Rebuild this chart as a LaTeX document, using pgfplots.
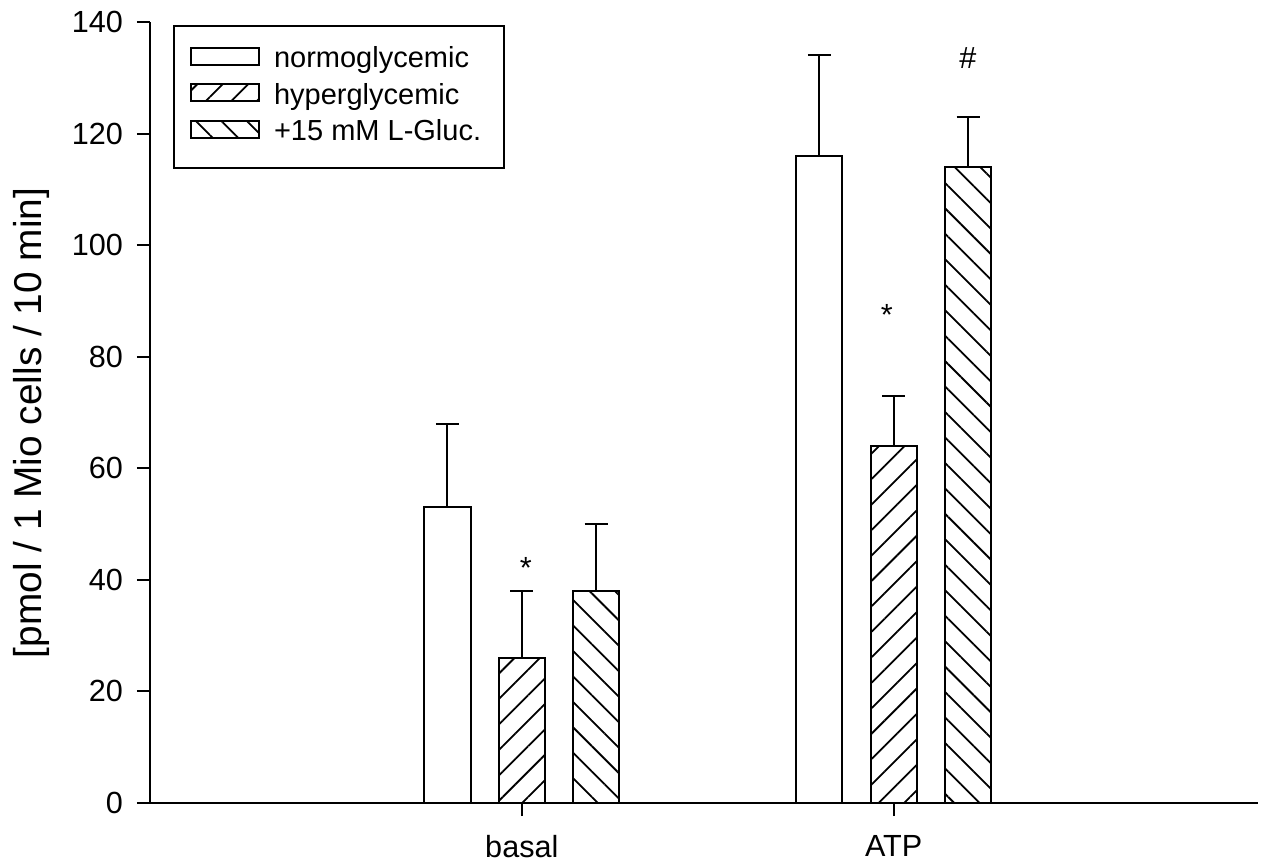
\documentclass[border=0pt]{standalone}
\usepackage{fontspec}
\setmainfont{Liberation Sans}
\usepackage{pgfplots}
\pgfplotsset{compat=1.18}
\usetikzlibrary{patterns.meta}

\pgfplotsset{
  mybar/.style={ybar, bar width=0.124, bar shift=0pt, draw=black, line width=1pt,
    legend image code/.code={\draw[##1] (0pt,-2.25pt) rectangle (34pt,6.25pt);},
    error bars/y dir=plus, error bars/y explicit,
    error bars/error bar style={line width=1pt, black, solid},
    error bars/error mark options={rotate=90, line width=1pt, mark size=5.75pt, black, solid}},
}

\begin{document}
\begin{tikzpicture}
\begin{axis}[
  at={(0pt,0pt)}, anchor=south west,
  scale only axis, width=554pt, height=390.5pt,
  xmin=0, xmax=2.98, ymin=0, ymax=140,
  axis x line*=bottom, axis y line*=left,
  axis line style={line width=1pt},
  xtick={1,2}, xticklabels={basal,ATP},
  ytick={0,20,...,140},
  tick align=outside, major tick length=6.5pt,
  tick style={line width=1pt, black},
  ticklabel style={font=\fontsize{15.3}{18}\selectfont},
  yticklabel style={xshift=-3.5pt},
  xticklabel style={yshift=-6pt},
  /pgf/number format/assume math mode=true,
  ylabel={[pmol / 1 Mio cells / 10 min]},
  ylabel style={font=\fontsize{19.4}{23}\selectfont, at={(axis description cs:-0.1074,0.4866)}, anchor=center},
  clip=false,
  legend cell align=left,
  legend style={at={(0.0208,0.9962)}, anchor=north west, draw=black, line width=1pt,
    inner xsep=8pt, inner ysep=10pt, row sep=3.75pt, column sep=3.5pt,
    font=\fontsize{14.5}{17}\selectfont,
    nodes={inner ysep=0pt, inner xsep=3.5pt, text height=11pt, text depth=3.5pt}},
]
\addplot[mybar, fill=white] coordinates {(0.8,53) +- (0,15) (1.8,116) +- (0,18)};
\addlegendentry{normoglycemic}
\addplot[mybar, pattern={Lines[angle=45,distance=9pt,line width=0.9pt]}] coordinates {(1.0,26) +- (0,12) (2.0,64) +- (0,9)};
\addlegendentry{hyperglycemic}
\addplot[mybar, pattern={Lines[angle=-45,distance=9pt,line width=0.9pt]}] coordinates {(1.2,38) +- (0,12) (2.2,114) +- (0,9)};
\addlegendentry{+15 mM L-Gluc.}
\node[anchor=base, font=\fontsize{15.3}{18}\selectfont] at (axis cs:1.011,40.2) {*};
\node[anchor=base, font=\fontsize{15.3}{18}\selectfont] at (axis cs:1.982,85.6) {*};
\node[anchor=base, font=\fontsize{15.3}{18}\selectfont] at (axis cs:2.200,131.7) {\#};
\end{axis}
\pgfresetboundingbox
\useasboundingbox (-75pt,-32pt) rectangle (555.5pt,401.5pt);
\end{tikzpicture}
\end{document}
